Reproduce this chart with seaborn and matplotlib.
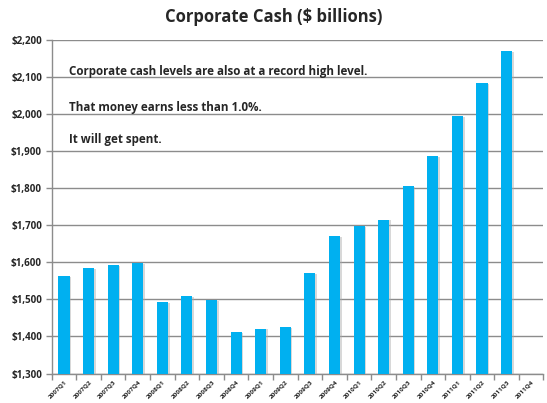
import numpy as np
import pandas as pd
import matplotlib

matplotlib.use("Agg")

import matplotlib.pyplot as plt
import matplotlib.patheffects as pe
import seaborn as sns
from matplotlib.ticker import FuncFormatter, MultipleLocator

# ============================================================
# DATA
# ============================================================

QUARTERS = [
    "2007Q1", "2007Q2", "2007Q3", "2007Q4",
    "2008Q1", "2008Q2", "2008Q3", "2008Q4",
    "2009Q1", "2009Q2", "2009Q3", "2009Q4",
    "2010Q1", "2010Q2", "2010Q3", "2010Q4",
    "2011Q1", "2011Q2", "2011Q3", "2011Q4",
]
CASH = [
    1563, 1585, 1592, 1597,
    1493, 1509, 1497, 1412,
    1421, 1426, 1570, 1671,
    1698, 1715, 1806, 1887,
    1994, 2084, 2169, np.nan,
]
NOTES = [
    "Corporate cash levels are also at a record high level.",
    "That money earns less than 1.0%.",
    "It will get spent.",
]
TITLE = "Corporate Cash ($ billions)"

BAR_COLOR  = "#00B0F0"
GRID_COLOR = "#8C8C8C"
FONT       = ["Open Sans", "DejaVu Sans"]

# ============================================================
# PLOT
# ============================================================

df = pd.DataFrame({"Quarter": QUARTERS, "Cash": CASH})

sns.set_style("white")
plt.rcParams["font.family"] = FONT

fig = plt.figure(figsize=(5.47, 4.03), dpi=100)
ax = fig.add_axes([0.0945, 0.0732, 0.899, 0.8283])

sns.barplot(data=df, x="Quarter", y="Cash", order=QUARTERS,
            color=BAR_COLOR, saturation=1, width=0.45, linewidth=0,
            ax=ax, zorder=3)
for bar in ax.patches:
    bar.set_path_effects([pe.SimplePatchShadow(offset=(1.2, -0.6),
                                               shadow_rgbFace="#AAAAAA",
                                               alpha=0.45),
                          pe.Normal()])

ax.set_ylim(1300, 2200)
ax.set_xlim(-0.5, len(QUARTERS) - 0.5)
ax.yaxis.set_major_locator(MultipleLocator(100))
ax.yaxis.set_major_formatter(FuncFormatter(lambda v, _: f"${v:,.0f}"))
ax.grid(axis="y", color=GRID_COLOR, linewidth=1.0, zorder=0)
ax.set_axisbelow(True)

ax.set_xlabel("")
ax.set_ylabel("")
ax.tick_params(axis="y", labelsize=7, length=4, width=1, color=GRID_COLOR,
               direction="out", left=True, pad=3)
for lbl in ax.get_yticklabels():
    lbl.set_fontweight("bold")

# x ticks: marks at category boundaries, labels at centres
ax.set_xticks(np.arange(len(QUARTERS)))
ax.set_xticklabels(QUARTERS, rotation=45, ha="right", rotation_mode="anchor",
                   fontsize=4.6, fontweight="bold")
ax.tick_params(axis="x", which="major", length=0, pad=4)
ax.set_xticks(np.arange(len(QUARTERS) + 1) - 0.5, minor=True)
ax.tick_params(axis="x", which="minor", length=4, width=1, color=GRID_COLOR,
               direction="out", bottom=True)

for side in ("top", "right"):
    ax.spines[side].set_visible(False)
for side in ("left", "bottom"):
    ax.spines[side].set_color(GRID_COLOR)
    ax.spines[side].set_linewidth(1.0)

for note, y in zip(NOTES, [0.905, 0.797, 0.700]):
    ax.text(0.035, y, note, transform=ax.transAxes, fontsize=8.4,
            fontweight="bold", va="center", ha="left", zorder=5)

fig.text(0.5, 0.958, TITLE, ha="center", va="center",
         fontsize=12, fontweight="bold")

fig.savefig("out.png", dpi=100)
plt.close(fig)
